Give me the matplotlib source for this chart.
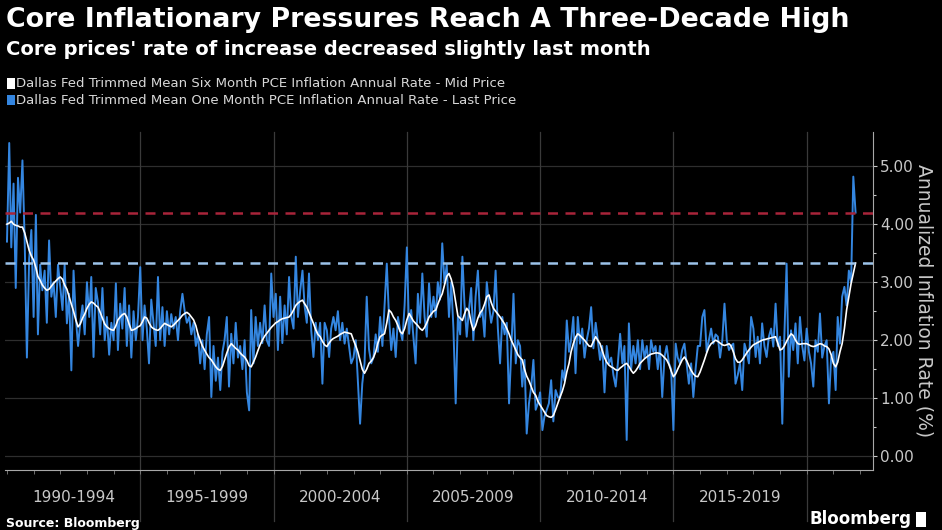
import numpy as np
import pandas as pd
import matplotlib
matplotlib.use("Agg")
import matplotlib.pyplot as plt  # noqa: E402
import matplotlib.dates as mdates  # noqa: E402
from matplotlib.patches import Rectangle  # noqa: E402

# Dallas Fed trimmed mean PCE, six-month annualized (white), Jan 1990 - Nov 2021
six_month = [
    4.00, 4.02, 4.05, 4.00, 3.98, 3.97, 3.95, 3.95, 3.85, 3.70, 3.55, 3.45,  # 1990
    3.38, 3.25, 3.10, 3.03, 2.95, 2.90, 2.86, 2.88, 2.93, 2.98, 3.02, 3.06,  # 1991
    3.09, 3.05, 2.95, 2.88, 2.75, 2.62, 2.50, 2.35, 2.23, 2.28, 2.38, 2.45,  # 1992
    2.55, 2.62, 2.66, 2.64, 2.60, 2.57, 2.48, 2.38, 2.28, 2.23, 2.20, 2.18,  # 1993
    2.17, 2.25, 2.35, 2.40, 2.44, 2.46, 2.40, 2.28, 2.17, 2.18, 2.20, 2.23,  # 1994
    2.25, 2.32, 2.40, 2.38, 2.30, 2.23, 2.20, 2.18, 2.17, 2.20, 2.25, 2.29,  # 1995
    2.27, 2.25, 2.23, 2.26, 2.30, 2.34, 2.38, 2.43, 2.46, 2.48, 2.45, 2.40,  # 1996
    2.35, 2.25, 2.11, 2.00, 1.90, 1.83, 1.76, 1.70, 1.66, 1.60, 1.54, 1.50,  # 1997
    1.48, 1.55, 1.66, 1.78, 1.88, 1.94, 1.90, 1.86, 1.83, 1.78, 1.74, 1.71,  # 1998
    1.65, 1.56, 1.54, 1.62, 1.71, 1.82, 1.92, 2.00, 2.07, 2.12, 2.17, 2.22,  # 1999
    2.26, 2.30, 2.32, 2.35, 2.37, 2.38, 2.39, 2.40, 2.45, 2.52, 2.60, 2.64,  # 2000
    2.67, 2.69, 2.63, 2.57, 2.48, 2.38, 2.29, 2.18, 2.10, 2.06, 1.98, 1.92,  # 2001
    1.89, 1.95, 2.00, 2.03, 2.05, 2.07, 2.10, 2.12, 2.14, 2.13, 2.12, 2.11,  # 2002
    2.00, 1.90, 1.80, 1.65, 1.50, 1.43, 1.50, 1.60, 1.64, 1.70, 1.80, 1.95,  # 2003
    2.06, 2.09, 2.11, 2.30, 2.52, 2.48, 2.40, 2.34, 2.25, 2.15, 2.11, 2.20,  # 2004
    2.35, 2.46, 2.40, 2.33, 2.29, 2.25, 2.20, 2.17, 2.22, 2.30, 2.40, 2.45,  # 2005
    2.50, 2.52, 2.62, 2.72, 2.80, 2.95, 3.10, 3.15, 3.05, 2.90, 2.65, 2.42,  # 2006
    2.38, 2.34, 2.45, 2.55, 2.50, 2.30, 2.17, 2.25, 2.38, 2.47, 2.52, 2.62,  # 2007
    2.75, 2.78, 2.65, 2.55, 2.50, 2.45, 2.40, 2.34, 2.28, 2.20, 2.11, 2.00,  # 2008
    1.92, 1.83, 1.75, 1.70, 1.66, 1.50, 1.38, 1.30, 1.20, 1.10, 1.05, 0.95,  # 2009
    0.88, 0.82, 0.76, 0.70, 0.68, 0.67, 0.70, 0.80, 0.91, 1.02, 1.12, 1.25,  # 2010
    1.45, 1.60, 1.80, 1.94, 2.05, 2.11, 2.08, 2.04, 2.00, 1.95, 1.90, 1.89,  # 2011
    1.98, 2.06, 2.00, 1.94, 1.82, 1.70, 1.62, 1.57, 1.54, 1.52, 1.49, 1.48,  # 2012
    1.52, 1.55, 1.58, 1.60, 1.55, 1.48, 1.43, 1.47, 1.53, 1.60, 1.64, 1.68,  # 2013
    1.71, 1.74, 1.76, 1.77, 1.78, 1.78, 1.77, 1.74, 1.70, 1.66, 1.58, 1.47,  # 2014
    1.37, 1.42, 1.50, 1.58, 1.66, 1.71, 1.65, 1.56, 1.48, 1.42, 1.38, 1.37,  # 2015
    1.45, 1.56, 1.66, 1.78, 1.88, 1.94, 1.97, 2.00, 1.98, 1.95, 1.92, 1.91,  # 2016
    1.92, 1.94, 1.90, 1.80, 1.68, 1.62, 1.62, 1.66, 1.72, 1.78, 1.83, 1.88,  # 2017
    1.92, 1.94, 1.96, 1.98, 2.00, 2.01, 2.02, 2.03, 2.04, 2.05, 2.06, 1.95,  # 2018
    1.83, 1.85, 1.90, 1.98, 2.05, 2.11, 2.08, 2.00, 1.94, 1.93, 1.94, 1.94,  # 2019
    1.94, 1.92, 1.90, 1.89, 1.90, 1.92, 1.94, 1.93, 1.90, 1.89, 1.85, 1.75,  # 2020
    1.60, 1.54, 1.62, 1.80, 1.94, 2.20, 2.52, 2.75, 2.98, 3.15, 3.33,        # 2021
]

# one-month annualized (blue)
one_month = [
    3.70, 5.40, 3.60, 4.70, 2.90, 4.80, 4.20, 5.10, 3.70, 1.70, 3.40, 3.90,  # 1990
    2.40, 4.16, 2.10, 3.30, 2.86, 3.20, 2.30, 3.72, 2.75, 3.00, 2.40, 3.30,  # 1991
    2.92, 2.52, 3.30, 2.29, 2.80, 1.48, 3.20, 2.40, 1.90, 2.30, 2.60, 2.10,  # 1992
    3.00, 2.40, 3.09, 1.71, 2.90, 2.65, 2.10, 2.90, 2.00, 2.40, 1.75, 2.30,  # 1993
    2.00, 2.98, 1.83, 2.63, 2.20, 2.90, 1.90, 2.60, 1.70, 2.50, 2.00, 2.40,  # 1994
    3.26, 2.00, 2.60, 2.20, 1.60, 2.70, 2.30, 1.90, 3.09, 2.00, 2.57, 1.90,  # 1995
    2.50, 2.10, 2.45, 2.20, 2.40, 2.00, 2.50, 2.80, 2.50, 2.30, 2.40, 2.10,  # 1996
    2.30, 1.90, 2.10, 1.60, 2.00, 1.50, 2.10, 2.40, 1.02, 1.90, 1.30, 1.70,  # 1997
    1.14, 1.80, 2.00, 2.40, 1.20, 2.11, 1.60, 2.30, 1.70, 1.90, 1.50, 2.00,  # 1998
    1.10, 0.79, 2.52, 1.60, 2.40, 1.90, 2.30, 1.95, 2.60, 2.00, 1.90, 3.15,  # 1999
    2.40, 2.80, 1.83, 2.75, 1.95, 2.60, 2.10, 3.09, 2.40, 2.20, 3.44, 2.40,  # 2000
    2.86, 3.20, 2.60, 2.30, 3.15, 2.17, 1.71, 2.30, 2.00, 2.30, 1.25, 2.30,  # 2001
    2.17, 1.71, 2.20, 2.40, 2.17, 2.50, 2.00, 2.30, 1.94, 2.20, 1.90, 1.60,  # 2002
    1.70, 2.00, 1.30, 0.56, 1.25, 1.60, 2.75, 1.85, 1.60, 1.70, 2.10, 1.80,  # 2003
    2.40, 1.90, 2.60, 3.32, 2.40, 1.83, 2.20, 1.71, 2.40, 2.17, 2.00, 2.60,  # 2004
    3.60, 2.11, 2.52, 2.06, 1.60, 2.80, 2.30, 3.15, 2.40, 2.06, 2.98, 2.40,  # 2005
    2.75, 2.40, 3.00, 2.70, 3.67, 2.98, 3.30, 2.40, 3.00, 2.20, 0.91, 2.40,  # 2006
    2.10, 3.44, 2.63, 2.06, 2.52, 2.90, 2.00, 2.75, 3.20, 2.40, 2.52, 2.06,  # 2007
    3.00, 2.60, 2.30, 2.50, 3.20, 2.20, 1.60, 2.40, 2.10, 2.30, 0.91, 1.80,  # 2008
    2.80, 1.60, 2.00, 1.90, 1.20, 1.66, 0.39, 0.91, 1.20, 1.66, 0.80, 0.91,  # 2009
    1.10, 0.45, 0.68, 0.80, 0.91, 1.31, 0.60, 1.14, 1.02, 1.00, 1.48, 1.30,  # 2010
    2.34, 1.80, 2.00, 2.40, 1.43, 2.40, 1.94, 2.20, 1.70, 2.00, 2.20, 2.57,  # 2011
    1.86, 2.30, 2.00, 1.66, 1.90, 1.10, 1.90, 1.60, 1.70, 1.40, 1.20, 1.60,  # 2012
    2.11, 1.60, 1.90, 0.28, 2.29, 1.50, 1.90, 1.60, 2.00, 1.50, 2.00, 1.70,  # 2013
    1.90, 1.50, 2.00, 1.80, 1.90, 1.50, 1.90, 1.02, 1.71, 1.90, 1.60, 1.50,  # 2014
    0.45, 1.94, 1.70, 1.60, 1.83, 1.94, 1.60, 1.25, 1.60, 1.02, 1.50, 1.90,  # 2015
    1.90, 2.40, 2.52, 1.80, 2.00, 2.20, 1.94, 2.10, 2.06, 1.70, 2.00, 2.63,  # 2016
    2.00, 1.83, 1.90, 1.94, 1.25, 1.40, 1.60, 1.14, 1.94, 1.80, 1.60, 2.40,  # 2017
    2.20, 1.71, 2.06, 1.60, 2.29, 1.90, 1.71, 2.06, 2.20, 1.89, 2.63, 1.90,  # 2018
    2.06, 0.56, 2.06, 3.32, 1.37, 2.17, 1.83, 2.29, 1.60, 2.40, 1.90, 1.65,  # 2019
    2.20, 1.80, 1.60, 1.20, 2.00, 1.80, 2.46, 1.70, 1.90, 2.00, 0.91, 1.70,  # 2020
    1.80, 1.14, 2.40, 1.94, 2.75, 2.92, 2.60, 3.20, 3.00, 4.82, 4.20,        # 2021
]

period_labels = ["1990-1994", "1995-1999", "2000-2004", "2005-2009", "2010-2014", "2015-2019"]
period_starts = [1990, 1995, 2000, 2005, 2010, 2015, 2020]
y_ticks = [0, 1, 2, 3, 4, 5]

dates = pd.date_range("1990-01-01", periods=len(six_month), freq="MS")
last_one = one_month[-1]
last_six = six_month[-1]

plt.rcParams["font.family"] = ["DejaVu Sans"]
GREY = "#c8c8c8"
BLUE = "#3486e0"

fig = plt.figure(figsize=(9.42, 5.30), dpi=100, facecolor="black")
ax = fig.add_axes([0.005, 0.113, 0.922, 0.638], facecolor="black")

for y in y_ticks:
    ax.axhline(y, color="#2e2e2e", lw=0.9, zorder=0)
for yr in period_starts[1:]:
    ax.axvline(pd.Timestamp(f"{yr}-01-01"), ymin=-0.15, ymax=1, color="#3a3a3a",
               lw=0.9, zorder=0, clip_on=False)

ax.plot(dates, one_month, color=BLUE, lw=1.4, zorder=2)
ax.plot(dates, six_month, color="white", lw=1.2, zorder=3)
ax.axhline(last_one, color="#a8243a", lw=1.8, ls=(0, (4, 3)), zorder=4)
ax.axhline(last_six, color="#9cc3ea", lw=1.8, ls=(0, (4, 3)), zorder=4)

ax.set_xlim(pd.Timestamp("1989-12-01"), pd.Timestamp("2022-07-01"))
ax.set_ylim(-0.24, 5.59)

ax.yaxis.tick_right()
ax.set_yticks(y_ticks)
ax.set_yticklabels([f"{v:.2f}" for v in y_ticks])
ax.set_yticks([0.5, 1.5, 2.5, 3.5, 4.5], minor=True)
ax.tick_params(axis="y", which="both", colors=GREY, labelsize=11, length=3, width=0.8, pad=2)
ax.tick_params(axis="y", which="minor", length=2)
ax.yaxis.set_label_position("right")
ax.set_ylabel("Annualized Inflation Rate (%)", color=GREY, fontsize=13.5, rotation=270,
              labelpad=14)

ax.xaxis.set_major_locator(mdates.YearLocator(1))
ax.xaxis.set_major_formatter(plt.NullFormatter())
ax.tick_params(axis="x", colors="#808080", length=3, width=0.6)
for lab, yr in zip(period_labels, period_starts):
    ax.text(pd.Timestamp(f"{yr + 2}-07-01"), -0.08, lab, transform=ax.get_xaxis_transform(),
            ha="center", va="center", color=GREY, fontsize=11)

for side in ["left", "top"]:
    ax.spines[side].set_visible(False)
ax.spines["right"].set_color("#a8a8a8")
ax.spines["bottom"].set_color("#a8a8a8")

fig.text(0.006, 0.962, "Core Inflationary Pressures Reach A Three-Decade High", color="white",
         fontsize=19.3, fontweight="bold", va="center")
fig.text(0.006, 0.906, "Core prices' rate of increase decreased slightly last month", color="white",
         fontsize=14, fontweight="bold", va="center")

legend_items = [("Dallas Fed Trimmed Mean Six Month PCE Inflation Annual Rate - Mid Price", "white"),
                ("Dallas Fed Trimmed Mean One Month PCE Inflation Annual Rate - Last Price", BLUE)]
for i, (txt, c) in enumerate(legend_items):
    yy = 0.843 - i * 0.032
    fig.patches.append(Rectangle((0.007, yy - 0.010), 0.009, 0.020, transform=fig.transFigure,
                                 facecolor=c, edgecolor="none"))
    fig.text(0.017, yy, txt, color="#d8d8d8", fontsize=9.5, va="center")

fig.text(0.006, 0.013, "Source: Bloomberg", color="white", fontsize=9, fontweight="bold",
         va="center")
fig.text(0.968, 0.02, "Bloomberg", color="white", fontsize=12, fontweight="bold",
         ha="right", va="center")
fig.patches.append(Rectangle((0.972, 0.006), 0.011, 0.028, transform=fig.transFigure,
                             facecolor="white", edgecolor="none"))

fig.savefig("out.png", dpi=100, facecolor="black")
